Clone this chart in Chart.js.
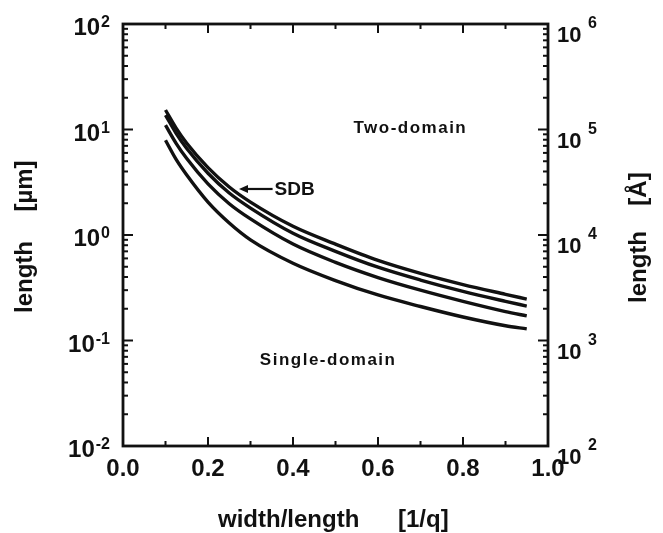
<!DOCTYPE html>
<html>
<head>
<meta charset="utf-8">
<script src="https://cdn.jsdelivr.net/npm/chart.js@4.4.1/dist/chart.umd.min.js"></script>
<style>
    body { margin: 0; background: #fff; }
    #wrap { width: 663px; height: 533px; }
</style>
</head>
<body>
<div id="wrap"><canvas id="domainChart" width="663" height="533"></canvas></div>
<script>
    // width/length ratio (1/q) and the four boundary curves, length in µm
    const widthRatio = [0.1, 0.125, 0.15, 0.2, 0.25, 0.3, 0.4, 0.5, 0.6, 0.7, 0.8, 0.9, 0.95];
    const curveSDB = [15.3, 10.3, 7.4, 4.35, 2.85, 2.05, 1.21, 0.82, 0.575, 0.433, 0.339, 0.274, 0.247];
    const curveB = [13.7, 9.2, 6.6, 3.85, 2.5, 1.8, 1.04, 0.70, 0.495, 0.374, 0.292, 0.235, 0.212];
    const curveC = [11.0, 7.4, 5.3, 3.05, 1.98, 1.42, 0.82, 0.55, 0.395, 0.30, 0.235, 0.188, 0.171];
    const curveD = [7.9, 5.2, 3.7, 2.05, 1.3, 0.9, 0.54, 0.37, 0.27, 0.21, 0.167, 0.138, 0.129];

    const xMajorTicks = ['0.0', '0.2', '0.4', '0.6', '0.8', '1.0'];
    const xMinorTicks = [0.1, 0.3, 0.5, 0.7, 0.9];
    const leftExponents = [-2, -1, 0, 1, 2];
    const rightExponents = [2, 3, 4, 5, 6];

    const FONT = '"Liberation Sans", Arial, sans-serif';
    const supMap = { '-': '-', 0: '0', 1: '1', 2: '2', 3: '3', 4: '4', 5: '5', 6: '6' };

    const makeSet = (values) => ({
        data: widthRatio.map((x, i) => ({ x, y: values[i] })),
        borderColor: '#111',
        borderWidth: 3.4,
        pointRadius: 0,
        fill: false,
        cubicInterpolationMode: 'monotone'
    });

    const logMinor = (min, max) => {
        const out = [];
        for (let e = Math.log10(min); e < Math.log10(max); e++) {
            for (let k = 2; k <= 9; k++) {
                out.push(k * Math.pow(10, e));
            }
        }
        return out;
    };

    const framePlugin = {
        id: 'framePlugin',
        afterDraw(chart) {
            const { ctx, chartArea: a, scales } = chart;
            const xs = scales.x;
            const yl = scales.y;
            const yr = scales.y2;
            ctx.save();
            ctx.strokeStyle = '#111';
            ctx.fillStyle = '#111';

            // frame
            ctx.lineWidth = 2.8;
            ctx.strokeRect(a.left, a.top, a.right - a.left, a.bottom - a.top);

            // x ticks, inward on bottom and top
            ctx.lineWidth = 2;
            const vTick = (px, len) => {
                ctx.beginPath();
                ctx.moveTo(px, a.bottom);
                ctx.lineTo(px, a.bottom - len);
                ctx.moveTo(px, a.top);
                ctx.lineTo(px, a.top + len);
                ctx.stroke();
            };
            xMajorTicks.forEach((t) => vTick(xs.getPixelForValue(parseFloat(t)), 9));
            xMinorTicks.forEach((t) => vTick(xs.getPixelForValue(t), 5));

            // y ticks, left and right
            const hTick = (scale, v, len, left) => {
                const py = scale.getPixelForValue(v);
                ctx.beginPath();
                if (left) {
                    ctx.moveTo(a.left, py);
                    ctx.lineTo(a.left + len, py);
                } else {
                    ctx.moveTo(a.right, py);
                    ctx.lineTo(a.right - len, py);
                }
                ctx.stroke();
            };
            leftExponents.forEach((e) => hTick(yl, Math.pow(10, e), 10, true));
            logMinor(0.01, 100).forEach((v) => hTick(yl, v, 5, true));
            rightExponents.forEach((e) => hTick(yr, Math.pow(10, e), 10, false));
            logMinor(100, 1e6).forEach((v) => hTick(yr, v, 5, false));

            // x tick labels
            ctx.font = `bold 24px ${FONT}`;
            ctx.textAlign = 'center';
            ctx.textBaseline = 'alphabetic';
            xMajorTicks.forEach((t) => {
                ctx.fillText(t, xs.getPixelForValue(parseFloat(t)), a.bottom + 30);
            });

            // left y labels: 10 with superscript exponent, right aligned
            leftExponents.forEach((e) => {
                const py = yl.getPixelForValue(Math.pow(10, e));
                const sup = String(e);
                ctx.font = `bold 16px ${FONT}`;
                const supW = ctx.measureText(sup).width;
                const right = a.left - 13;
                ctx.textAlign = 'right';
                ctx.fillText(sup, right, py + 3);
                ctx.font = `bold 24px ${FONT}`;
                ctx.fillText('10', right - supW - 1, py + 11);
            });

            // right y labels: "10  n"
            rightExponents.forEach((e) => {
                const py = yr.getPixelForValue(Math.pow(10, e));
                ctx.textAlign = 'left';
                ctx.font = `bold 22px ${FONT}`;
                ctx.fillText('10', a.right + 9, py + 18);
                ctx.font = `bold 16px ${FONT}`;
                ctx.fillText(supMap[e], a.right + 40, py + 4);
            });

            // axis titles
            ctx.font = `bold 24px ${FONT}`;
            ctx.textAlign = 'left';
            ctx.fillText('width/length', 218, 527);
            ctx.fillText('[1/q]', 398, 527);

            ctx.textBaseline = 'middle';
            ctx.textAlign = 'center';
            ctx.save();
            ctx.translate(25, 0);
            ctx.rotate(-Math.PI / 2);
            ctx.fillText('length', -277, 0);
            ctx.fillText('[µm]', -186, 0);
            ctx.restore();

            ctx.save();
            ctx.translate(639, 0);
            ctx.rotate(-Math.PI / 2);
            ctx.fillText('length', -267, 0);
            ctx.fillText('[Å]', -189, 0);
            ctx.restore();

            // region annotations
            ctx.font = `bold 17px ${FONT}`;
            ctx.letterSpacing = '1.5px';
            ctx.textAlign = 'right';
            ctx.fillText('Two-domain', xs.getPixelForValue(0.81), yl.getPixelForValue(10.3));
            ctx.textAlign = 'left';
            ctx.fillText('Single-domain', xs.getPixelForValue(0.322), yl.getPixelForValue(0.065));
            ctx.letterSpacing = '0px';

            // SDB label with arrow
            const ay = yl.getPixelForValue(2.73);
            const ax0 = xs.getPixelForValue(0.273);
            const ax1 = xs.getPixelForValue(0.352);
            ctx.lineWidth = 2.2;
            ctx.beginPath();
            ctx.moveTo(ax0 + 6, ay);
            ctx.lineTo(ax1, ay);
            ctx.stroke();
            ctx.beginPath();
            ctx.moveTo(ax0, ay);
            ctx.lineTo(ax0 + 9, ay - 4);
            ctx.lineTo(ax0 + 9, ay + 4);
            ctx.closePath();
            ctx.fill();
            ctx.font = `bold 19px ${FONT}`;
            ctx.textAlign = 'left';
            ctx.fillText('SDB', ax1 + 2, ay + 1);

            ctx.restore();
        }
    };

    new Chart(document.getElementById('domainChart'), {
        type: 'line',
        data: {
            datasets: [makeSet(curveSDB), makeSet(curveB), makeSet(curveC), makeSet(curveD)]
        },
        options: {
            responsive: false,
            animation: false,
            layout: { padding: { left: 123, right: 115, top: 24, bottom: 87 } },
            plugins: {
                legend: { display: false },
                tooltip: { enabled: false }
            },
            scales: {
                x: { type: 'linear', min: 0, max: 1, display: false },
                y: { type: 'logarithmic', min: 0.01, max: 100, display: false },
                y2: { type: 'logarithmic', min: 100, max: 1e6, display: false }
            }
        },
        plugins: [framePlugin]
    });
</script>
</body>
</html>
